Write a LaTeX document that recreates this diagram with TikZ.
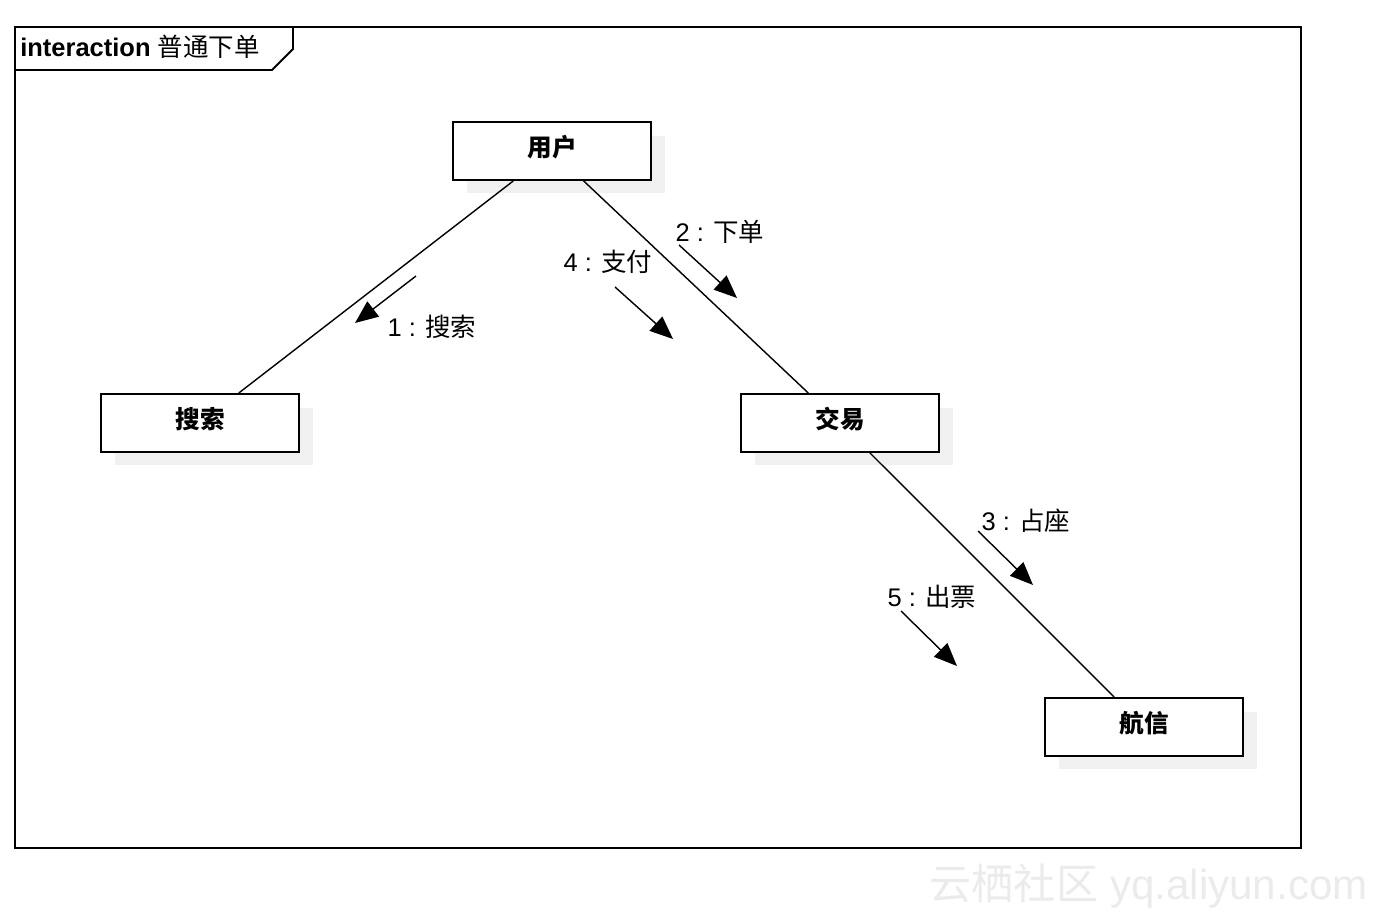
\documentclass[tikz,border=0pt]{standalone}
\usepackage{fontspec}
\setmainfont{Liberation Sans}
\newfontfamily\cjk{Noto Sans CJK SC}
\usepackage{tikz}
\usetikzlibrary{arrows.meta, shadows}

\begin{document}
\begin{tikzpicture}[x=0.02cm, y=-0.02cm,
  every node/.style={align=center, font=\fontsize{14.5}{17}\selectfont},
  obj/.style={draw, line width=1.1pt, fill=white, minimum width=3.96cm, minimum height=1.16cm,
    text depth=0.2cm, font=\fontsize{14}{17}\selectfont\cjk\bfseries,
    drop shadow={shadow xshift=0.28cm, shadow yshift=-0.27cm, fill=black!6, opacity=1}},
  link/.style={line width=0.8pt},
  msg/.style={line width=0.8pt, -{Triangle[length=0.46cm, width=0.38cm]}}]
\useasboundingbox (0,0) rectangle (1386,922);
% frame
\draw[line width=1.1pt] (15,27) rectangle (1301,848);
\draw[line width=1.1pt] (15,70) -- (272,70) -- (293,49) -- (293,27);
\node[anchor=west, inner sep=0pt, font=\fontsize{14.5}{17}\selectfont] (title) at (20,47) {\textbf{interaction} {\cjk 普通下单}};
% objects
\node[obj] (user) at (552,151) {用户};
\node[obj] (search) at (200,423) {搜索};
\node[obj] (trade) at (840,423) {交易};
\node[obj] (air) at (1144,727) {航信};
% links
\draw[link] (user) -- (search);
\draw[link] (user) -- (trade);
\draw[link] (trade) -- (air);
% messages
\coordinate (m1a) at (416,276); \coordinate (m1b) at (355,323);
\coordinate (m2a) at (679,245); \coordinate (m2b) at (737,298);
\coordinate (m4a) at (615,287); \coordinate (m4b) at (673,339);
\coordinate (m3a) at (978,531); \coordinate (m3b) at (1033,585);
\coordinate (m5a) at (901,611); \coordinate (m5b) at (957,666);
\draw[msg] (m1a) -- (m1b);
\draw[msg] (m2a) -- (m2b);
\draw[msg] (m4a) -- (m4b);
\draw[msg] (m3a) -- (m3b);
\draw[msg] (m5a) -- (m5b);
\node (l1) at (432,327) {1 : {\cjk 搜索}};
\node (l2) at (720,232) {2 : {\cjk 下单}};
\node (l4) at (608,262) {4 : {\cjk 支付}};
\node (l3) at (1026,521) {3 : {\cjk 占座}};
\node (l5) at (932,597) {5 : {\cjk 出票}};
% watermark
\node[text=black!8, anchor=east, font=\fontsize{24}{28}\selectfont] (wm) at (1374,886) {{\cjk 云栖社区} yq.aliyun.com};
\end{tikzpicture}
\end{document}
